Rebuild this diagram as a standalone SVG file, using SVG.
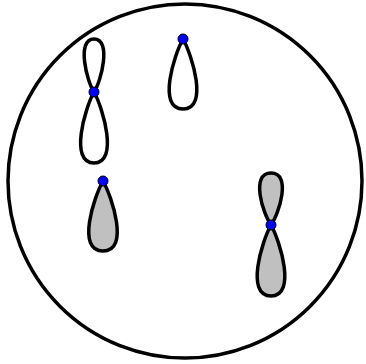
<svg xmlns="http://www.w3.org/2000/svg" width="366" height="364" viewBox="0 0 366 364">
<style>
.loop{stroke:#000;stroke-width:3.5;fill:none}
.f{fill:#c0c0c0}
.n{fill:#0000ff;stroke:#000;stroke-width:1}
</style>
<rect width="366" height="364" fill="#fff"/>
<g id="disk"><circle cx="185" cy="181" r="177" fill="none" stroke="#000" stroke-width="3.5"/></g>
<g id="connectors">
<path class="loop" d="M94,92 C87,82 76,39 94,39 C112,39 101,82 94,92 Z"/>
<path class="loop" d="M94,92 C85,108 69,163 94,163 C119,163 103,108 94,92 Z"/>
<path class="loop" d="M183,39 C174,55 157,109 183,109 C209,109 192,55 183,39 Z"/>
<path class="loop f" d="M103,181 C94,197 76,251 103,251 C130,251 112,197 103,181 Z"/>
<path class="loop f" d="M271,225 C263,214 250,173 271,173 C292,173 279,214 271,225 Z"/>
<path class="loop f" d="M271,225 C262,241 245,296 271,296 C297,296 280,241 271,225 Z"/>
</g>
<g id="node1"><circle class="n" cx="94" cy="92" r="5"/></g>
<g id="node2"><circle class="n" cx="183" cy="39" r="5"/></g>
<g id="node3"><circle class="n" cx="103" cy="181" r="5"/></g>
<g id="node4"><circle class="n" cx="271" cy="225" r="5"/></g>
</svg>
